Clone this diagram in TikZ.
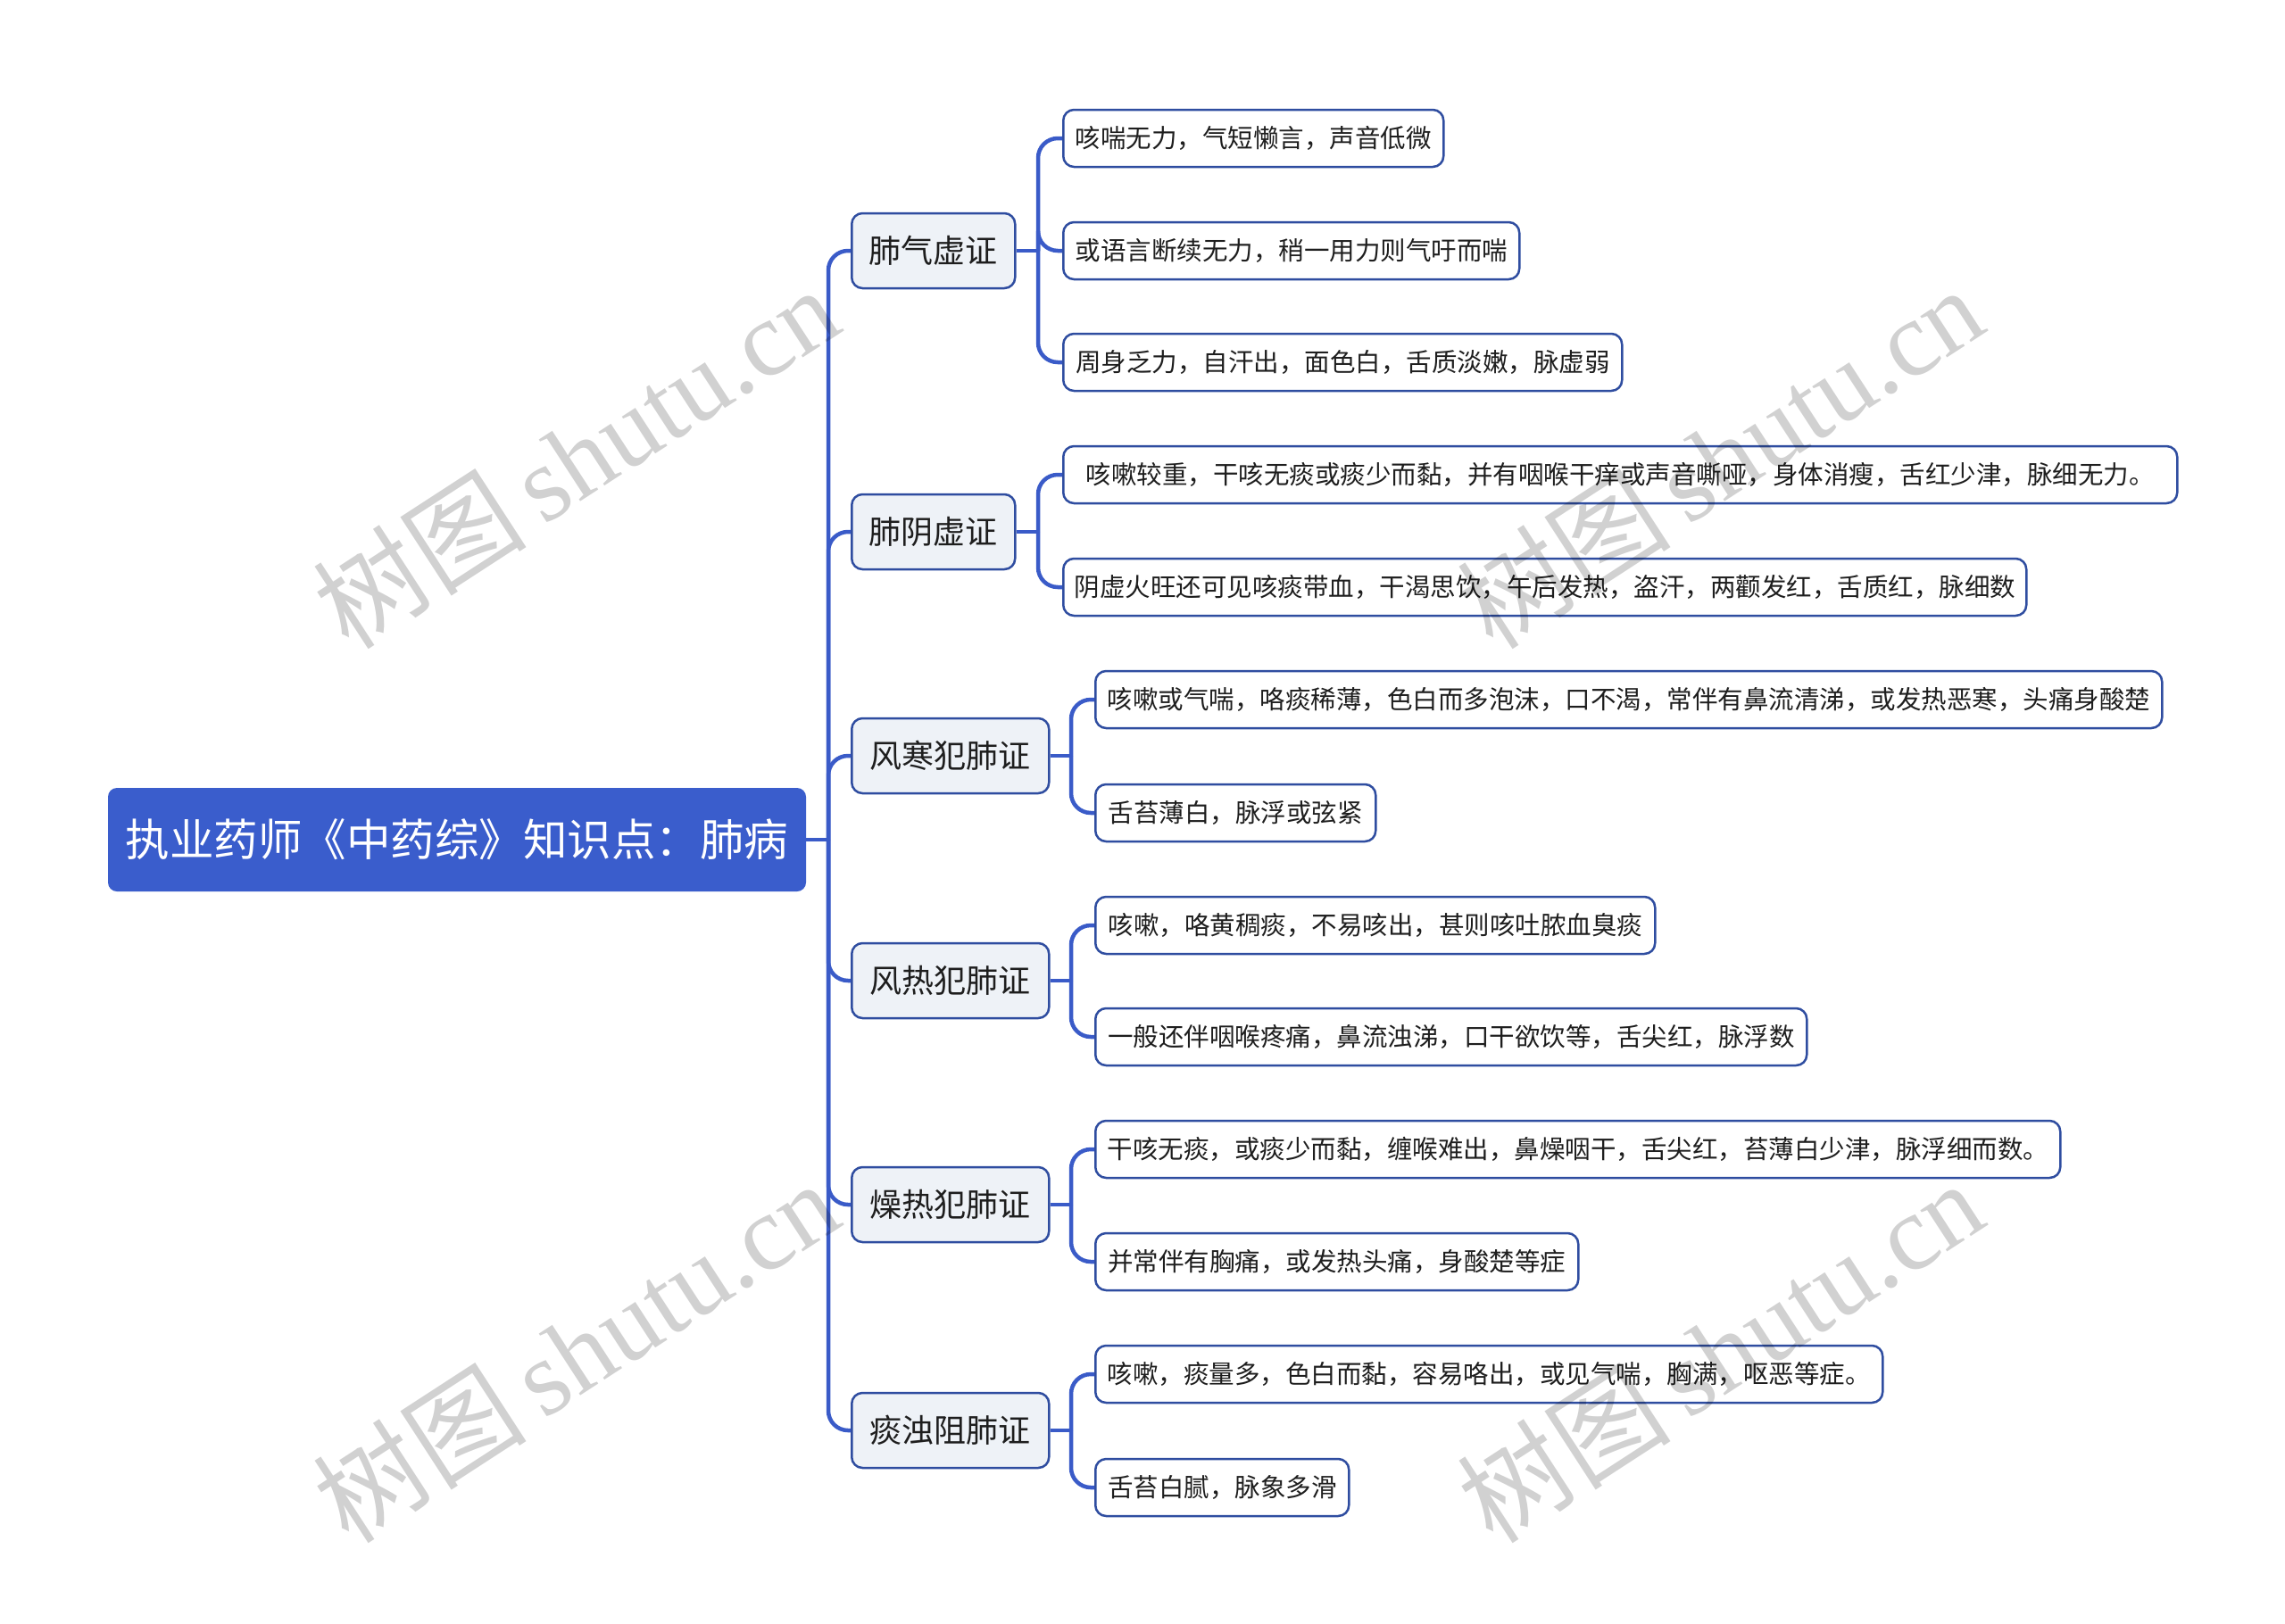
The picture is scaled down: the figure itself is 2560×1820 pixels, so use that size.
\documentclass[tikz,border=0pt]{standalone}
\usepackage{fontspec}
\setmainfont{Noto Sans CJK SC}
\newfontfamily\wmserif{Liberation Serif}
\newfontfamily\cjk{Noto Sans CJK SC}
\definecolor{rootblue}{HTML}{3A5DCC}
\definecolor{linkblue}{HTML}{3A5BC8}
\definecolor{bordblue}{HTML}{2F4DA0}
\definecolor{lonefill}{HTML}{EEF2F7}
\definecolor{txtcol}{HTML}{1E1E1E}
\tikzset{
  rootbox/.style={fill=rootblue, draw=none, rounded corners=10pt, text=white,
    font=\fontsize{49.5}{56}\selectfont, minimum width=782pt, minimum height=116pt, inner sep=0pt},
  lonebox/.style={draw=bordblue, line width=2.5pt, fill=lonefill, rounded corners=12pt,
    text=txtcol, font=\fontsize{36}{42}\selectfont, minimum height=84pt, inner sep=0pt, anchor=west},
  leafbox/.style={draw=bordblue, line width=2.5pt, fill=white, rounded corners=12pt,
    text=txtcol, font=\fontsize{28.5}{34}\selectfont, minimum height=64pt, inner sep=0pt, anchor=west},
  conn/.style={draw=linkblue, line width=4.5pt, rounded corners=22pt},
  wmark/.style={text=black, text opacity=0.18, rotate=33, inner sep=0pt}
}
\begin{document}
\begin{tikzpicture}[x=1pt,y=-1pt]
\useasboundingbox[fill=white] (0,0) rectangle (2560,1820);

% root
\node[rootbox] (root) at (512,941) {执业药师《中药综》知识点：肺病};

% level 1
\node[lonebox, minimum width=183pt] (a) at (953,281) {肺气虚证};
\node[lonebox, minimum width=183pt] (b) at (953,596) {肺阴虚证};
\node[lonebox, minimum width=221pt] (c) at (953,847) {风寒犯肺证};
\node[lonebox, minimum width=221pt] (d) at (953,1099) {风热犯肺证};
\node[lonebox, minimum width=221pt] (e) at (953,1350) {燥热犯肺证};
\node[lonebox, minimum width=221pt] (f) at (953,1603) {痰浊阻肺证};

% leaves
\node[leafbox, minimum width=426pt] (a1) at (1190,155) {咳喘无力，气短懒言，声音低微};
\node[leafbox, minimum width=511pt] (a2) at (1190,281) {或语言断续无力，稍一用力则气吁而喘};
\node[leafbox, minimum width=626pt] (a3) at (1190,406) {周身乏力，自汗出，面色白，舌质淡嫩，脉虚弱};

\node[leafbox, minimum width=1248pt] (b1) at (1190,532) {咳嗽较重，干咳无痰或痰少而黏，并有咽喉干痒或声音嘶哑，身体消瘦，舌红少津，脉细无力。};
\node[leafbox, minimum width=1079pt] (b2) at (1190,658) {阴虚火旺还可见咳痰带血，干渴思饮，午后发热，盗汗，两颧发红，舌质红，脉细数};

\node[leafbox, minimum width=1195pt] (c1) at (1226,784) {咳嗽或气喘，咯痰稀薄，色白而多泡沫，口不渴，常伴有鼻流清涕，或发热恶寒，头痛身酸楚};
\node[leafbox, minimum width=314pt] (c2) at (1226,911) {舌苔薄白，脉浮或弦紧};

\node[leafbox, minimum width=627pt] (d1) at (1226,1037) {咳嗽，咯黄稠痰，不易咳出，甚则咳吐脓血臭痰};
\node[leafbox, minimum width=797pt] (d2) at (1226,1162) {一般还伴咽喉疼痛，鼻流浊涕，口干欲饮等，舌尖红，脉浮数};

\node[leafbox, minimum width=1081pt] (e1) at (1226,1288) {干咳无痰，或痰少而黏，缠喉难出，鼻燥咽干，舌尖红，苔薄白少津，脉浮细而数。};
\node[leafbox, minimum width=541pt] (e2) at (1226,1414) {并常伴有胸痛，或发热头痛，身酸楚等症};

\node[leafbox, minimum width=882pt] (f1) at (1226,1540) {咳嗽，痰量多，色白而黏，容易咯出，或见气喘，胸满，呕恶等症。};
\node[leafbox, minimum width=284pt] (f2) at (1226,1667) {舌苔白腻，脉象多滑};

% junction coordinates
\coordinate (sp) at (928,941);
\coordinate (ja) at (1163,281);
\coordinate (jb) at (1163,596);
\coordinate (jc) at (1200,847);
\coordinate (jd) at (1200,1099);
\coordinate (je) at (1200,1350);
\coordinate (jf) at (1200,1603);

% connectors root -> level 1
\draw[conn] (root.east) -- (sp);
\foreach \n in {a,b,c,d,e,f} { \draw[conn] (sp) |- (\n.west); }

% connectors level 1 -> leaves
\draw[conn] (a.east) -- (ja);
\foreach \n in {a1,a2,a3} { \draw[conn] (ja) |- (\n.west); }
\draw[conn] (b.east) -- (jb);
\foreach \n in {b1,b2} { \draw[conn] (jb) |- (\n.west); }
\draw[conn] (c.east) -- (jc);
\foreach \n in {c1,c2} { \draw[conn] (jc) |- (\n.west); }
\draw[conn] (d.east) -- (jd);
\foreach \n in {d1,d2} { \draw[conn] (jd) |- (\n.west); }
\draw[conn] (e.east) -- (je);
\foreach \n in {e1,e2} { \draw[conn] (je) |- (\n.west); }
\draw[conn] (f.east) -- (jf);
\foreach \n in {f1,f2} { \draw[conn] (jf) |- (\n.west); }

% watermarks
\foreach \wx/\wy [count=\i] in {645/512, 1927/512, 645/1514, 1927/1514} {
  \node[wmark] (wm\i) at (\wx,\wy) {\fontsize{120}{130}\selectfont\cjk 树图\,\wmserif shutu.cn};
}
\end{tikzpicture}
\end{document}
